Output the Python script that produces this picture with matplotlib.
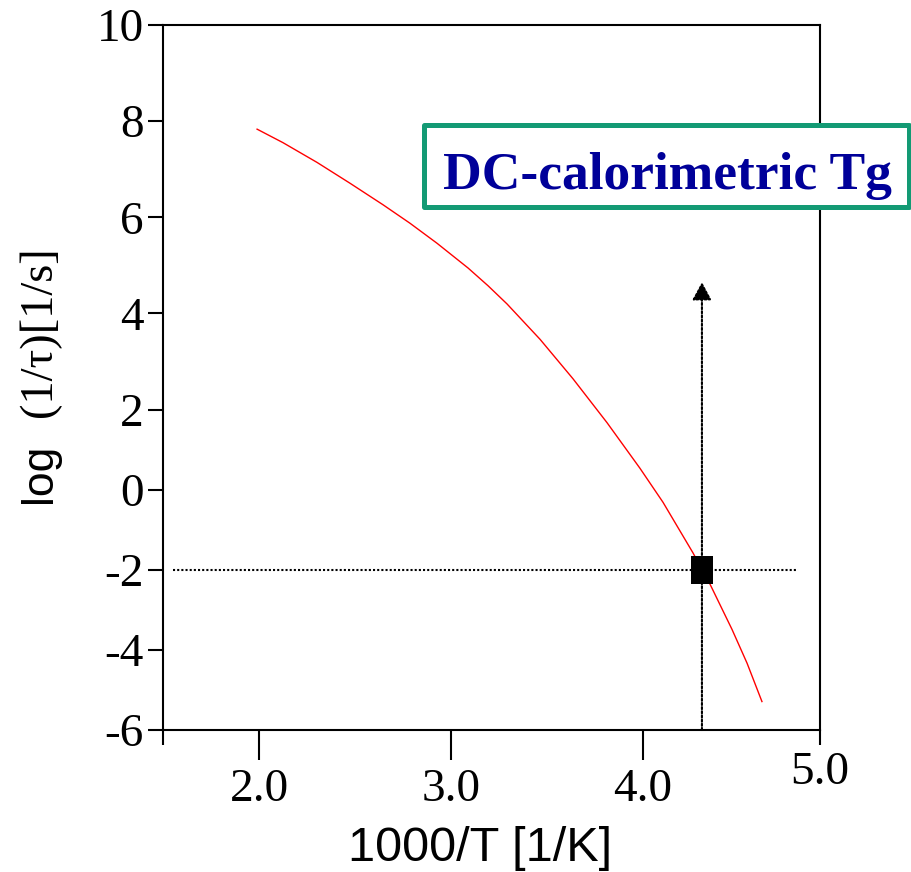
import numpy as np
import matplotlib.pyplot as plt
from matplotlib.patches import Rectangle
from matplotlib.path import Path

# relaxation rate curve: log(1/tau) against 1000/T
inv_t = [1.990, 2.125, 2.302, 2.474, 2.646, 2.786, 2.927, 3.089, 3.193, 3.292, 3.464,
         3.635, 3.8125, 3.984, 4.113, 4.282, 4.379, 4.503, 4.588, 4.672]
log_rate = [7.833, 7.552, 7.142, 6.708, 6.260, 5.877, 5.460, 4.944, 4.575, 4.196, 3.460,
            2.642, 1.673, 0.535, -0.315, -1.575, -2.363, -3.49, -4.333, -5.29]

# calorimetric Tg point (tau = 100 s)
tg_x = 4.333
tg_y = -2.0
guide_x = [1.552, 4.864]
arrow_top = 4.65

x_ticks = [2.0, 3.0, 4.0]
x_labels = ['2.0', '3.0', '4.0']
x_edge_ticks = [1.5, 5.0]
x_edge_labels = ['', '5.0']
y_ticks = [-6, -4, -2, 0, 2, 4, 6, 8, 10]
y_labels = ['-6', '-4', '-2', '0', '2', '4', '6', '8', '10']


# the axes of the old figure are not evenly spaced: piecewise linear scales
def fwd_x(x):
    x = np.asarray(x, dtype=float)
    return np.where(x <= 4, 192 * x, 768 + 177 * (x - 4))


def inv_x(u):
    u = np.asarray(u, dtype=float)
    return np.where(u <= 768, u / 192, 4 + (u - 768) / 177)


def fwd_y(v):
    v = np.asarray(v, dtype=float)
    return np.where(v <= 2, 40 * v, 80 + 48 * (v - 2))


def inv_y(u):
    u = np.asarray(u, dtype=float)
    return np.where(u <= 80, u / 40, 2 + (u - 80) / 48)


W, H = 912, 872
fig = plt.figure(figsize=(W / 100, H / 100), dpi=100)
ax = fig.add_axes([163 / W, (H - 730) / H, 657 / W, 705 / H])

ax.set_xscale('function', functions=(fwd_x, inv_x))
ax.set_yscale('function', functions=(fwd_y, inv_y))
ax.set_xlim(1.5, 5.0)
ax.set_ylim(-6, 10)

serif = 'Liberation Serif'
sans = 'Liberation Sans'

ax.set_xticks(x_ticks)
ax.set_xticklabels(x_labels, fontfamily=serif, fontsize=34)
ax.set_xticks(x_edge_ticks, minor=True)
ax.set_xticklabels(x_edge_labels, minor=True, fontfamily=serif, fontsize=34)
ax.set_yticks(y_ticks)
ax.set_yticklabels(y_labels, fontfamily=serif, fontsize=34)
ax.yaxis.set_minor_locator(plt.NullLocator())

for s in ax.spines.values():
    s.set_linewidth(1.5)
ax.tick_params(axis='x', which='major', direction='out', length=21.6, width=1.5, pad=6)
ax.tick_params(axis='x', which='minor', direction='out', length=10.8, width=1.5, pad=5)
ax.tick_params(axis='y', which='major', direction='out', length=10.8, width=1.5, pad=3)

# curve
ax.plot(inv_t, log_rate, color='red', lw=1.0, zorder=3, solid_joinstyle='round')

# guide lines and arrow
dot = (0, (1, 1))
ax.plot(guide_x, [tg_y, tg_y], color='black', lw=1.5, ls=dot, zorder=2)
ax.annotate('', xy=(tg_x, arrow_top), xytext=(tg_x, -6),
            arrowprops=dict(arrowstyle='-|>,head_length=0.54,head_width=0.29',
                            color='black', lw=1.5, ls=dot, mutation_scale=20,
                            shrinkA=0, shrinkB=0),
            zorder=2)

# slightly tall square marker
rect_marker = Path([(-0.8, -1), (0.8, -1), (0.8, 1), (-0.8, 1), (-0.8, -1)],
                   [Path.MOVETO, Path.LINETO, Path.LINETO, Path.LINETO, Path.CLOSEPOLY])
ax.plot([tg_x], [tg_y], marker=rect_marker, ms=19.5, color='black', mew=0, zorder=4)

# axis labels
fig.text(480 / W, (H - 848) / H, '1000/T [1/K]', fontfamily=sans, fontsize=35,
         ha='center', va='center')
fig.text(40 / W, (H - 503) / H, 'log', fontfamily=sans, fontsize=32,
         rotation=90, ha='center', va='bottom')
fig.text(40 / W, (H - 246) / H, '(1/\u03c4)[1/s]', fontfamily=serif, fontsize=33.5,
         rotation=90, ha='center', va='top')

# label box
box = Rectangle((424.5 / W, (H - 207) / H), 485 / W, 82 / H, transform=fig.transFigure,
                facecolor='white', edgecolor='#139a74', lw=3.6, joinstyle='round',
                zorder=5)
fig.add_artist(box)
fig.text(443 / W, (H - 189) / H, 'DC-calorimetric Tg', fontfamily=serif,
         fontweight='bold', fontsize=38.5, color='#000099', ha='left', va='baseline',
         zorder=6)

fig.savefig('out.png', dpi=100)
